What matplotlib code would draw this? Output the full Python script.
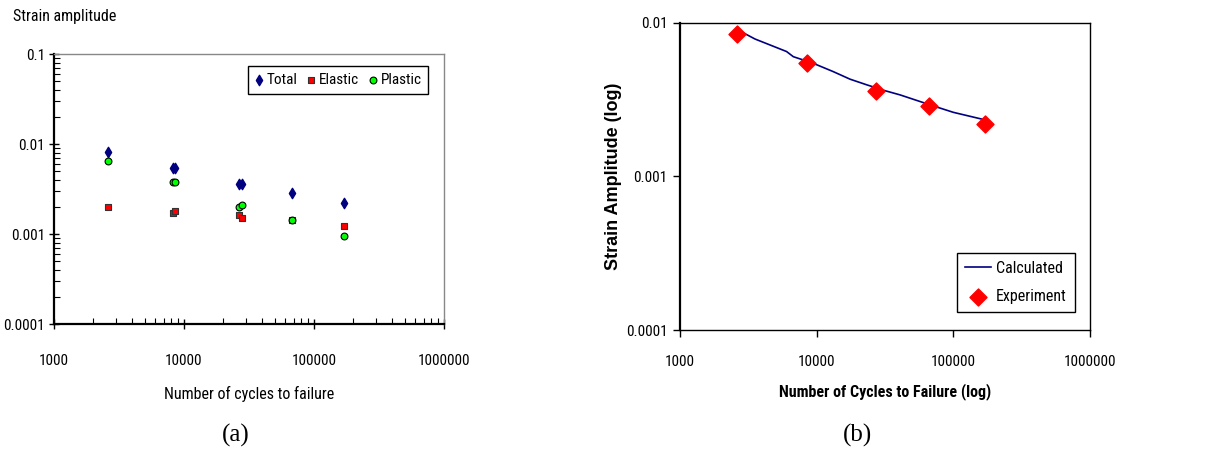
import numpy as np
import matplotlib.pyplot as plt
from matplotlib.ticker import FixedLocator, NullFormatter, LogLocator

# (a) strain components vs cycles
cyc_a = [2600, 8300, 8600, 26500, 27800, 67700, 171000]
total = [0.0082, 0.00546, 0.00546, 0.00362, 0.00362, 0.00288, 0.00223]
elastic = [0.0020, 0.00172, 0.0018, 0.00162, 0.00152, 0.00143, 0.00124]
plastic = [0.0065, 0.00378, 0.00378, 0.00201, 0.00212, 0.00143, 0.00096]

# (b) calculated curve and experiment
calc_n = [2716, 3540, 6026, 6745, 9397, 13183, 17539, 23281, 31623, 40738,
          70795, 100000, 171000]
calc_eps = [0.00887, 0.00783, 0.00649, 0.00601, 0.00545, 0.00481, 0.00429,
            0.00394, 0.00361, 0.00339, 0.00288, 0.00261, 0.00233]
exp_n = [2600, 8470, 27200, 66400, 171000]
exp_eps = [0.0084, 0.0055, 0.0036, 0.00285, 0.0022]

xticks = [1e3, 1e4, 1e5, 1e6]
xlabels = ['1000', '10000', '100000', '1000000']

narrow = ['Roboto Condensed', 'DejaVu Sans']
sans = ['Liberation Sans', 'DejaVu Sans']
serif = ['Liberation Serif', 'DejaVu Serif']
fs = 11

fig = plt.figure(figsize=(12.16, 4.5), dpi=100)

# ---------------- (a) ----------------
ax1 = fig.add_axes([54/1216, 1-324/450, 390/1216, 270/450])
ax1.scatter(cyc_a, total, marker='d', s=28, c='#000080', zorder=3, label='Total')
ax1.scatter(cyc_a, elastic, marker='s', s=24, c='red', edgecolors='#333333',
            linewidths=0.8, zorder=3, label='Elastic')
ax1.scatter(cyc_a, plastic, marker='o', s=24, c='#00ff00', edgecolors='black',
            linewidths=0.8, zorder=3, label='Plastic')
ax1.set_xscale('log')
ax1.set_yscale('log')
ax1.set_xlim(1e3, 1e6)
ax1.set_ylim(1e-4, 1e-1)
ax1.xaxis.set_major_locator(FixedLocator(xticks))
ax1.set_xticklabels(xlabels, family=narrow, fontsize=fs)
ax1.yaxis.set_major_locator(FixedLocator([1e-4, 1e-3, 1e-2, 1e-1]))
ax1.set_yticklabels(['0.0001', '0.001', '0.01', '0.1'], family=narrow, fontsize=fs)
ax1.xaxis.set_minor_locator(LogLocator(base=10, subs=np.arange(2, 10)))
ax1.yaxis.set_minor_locator(LogLocator(base=10, subs=np.arange(2, 10)))
ax1.xaxis.set_minor_formatter(NullFormatter())
ax1.yaxis.set_minor_formatter(NullFormatter())
ax1.tick_params(axis='x', which='major', direction='inout', length=7, width=1, pad=18)
ax1.tick_params(axis='y', which='major', direction='inout', length=7, width=1, pad=3)
ax1.tick_params(which='minor', direction='in', length=4, width=0.8)
for s in ['left', 'bottom']:
    ax1.spines[s].set_linewidth(1.6)
    ax1.spines[s].set_color('black')
for s in ['top', 'right']:
    ax1.spines[s].set_linewidth(1.0)
    ax1.spines[s].set_color('#888888')
ax1.set_xlabel('Number of cycles to failure', family=narrow, fontsize=11.5, labelpad=13)
fig.text(13/1216, 1-17/450, 'Strain amplitude', family=narrow, fontsize=11.5,
         ha='left', va='center')
leg1 = ax1.legend(loc='upper right', bbox_to_anchor=(0.96, 0.955), borderaxespad=0,
                  ncol=3, prop={'family': narrow, 'size': 11}, fancybox=False,
                  edgecolor='black', framealpha=1, handletextpad=0.2,
                  columnspacing=0.6, handlelength=0.6, borderpad=0.45)
leg1.get_frame().set_linewidth(1.0)
fig.text(236/1216, 1-435/450, '(a)', family=serif, fontsize=18, ha='center', va='center')

# ---------------- (b) ----------------
ax2 = fig.add_axes([680/1216, 1-330/450, 410/1216, 307.3/450])
ax2.plot(calc_n, calc_eps, color='#000080', lw=1.2, label='Calculated', zorder=2)
ax2.scatter(exp_n, exp_eps, marker='D', s=75, c='red', zorder=3, label='Experiment')
ax2.set_xscale('log')
ax2.set_yscale('log')
ax2.set_xlim(1e3, 1e6)
ax2.set_ylim(1e-4, 1e-2)
ax2.xaxis.set_major_locator(FixedLocator(xticks))
ax2.set_xticklabels(xlabels, family=narrow, fontsize=fs)
ax2.yaxis.set_major_locator(FixedLocator([1e-4, 1e-3, 1e-2]))
ax2.set_yticklabels(['0.0001', '0.001', '0.01'], family=narrow, fontsize=fs)
ax2.minorticks_off()
ax2.tick_params(which='major', direction='out', length=5, width=1)
ax2.tick_params(axis='x', pad=13)
ax2.tick_params(axis='y', pad=4)
for s in ['top', 'right', 'bottom']:
    ax2.spines[s].set_linewidth(1.0)
ax2.spines['left'].set_linewidth(1.6)
ax2.set_xlabel('Number of Cycles to Failure (log)', family=narrow, fontsize=11.5,
               fontweight='bold', labelpad=10)
ax2.set_ylabel('Strain Amplitude (log)', family=sans, fontsize=13,
               fontweight='bold', labelpad=3)
leg2 = ax2.legend(loc='lower right', bbox_to_anchor=(0.963, 0.058), borderaxespad=0,
                  prop={'family': narrow, 'size': 11.5}, fancybox=False,
                  edgecolor='black', framealpha=1, handlelength=1.6,
                  handletextpad=0.35, borderpad=0.5, labelspacing=0.85)
leg2.get_frame().set_linewidth(1.0)
fig.text(857/1216, 1-435/450, '(b)', family=serif, fontsize=18, ha='center', va='center')

fig.savefig('out.png', dpi=100)
